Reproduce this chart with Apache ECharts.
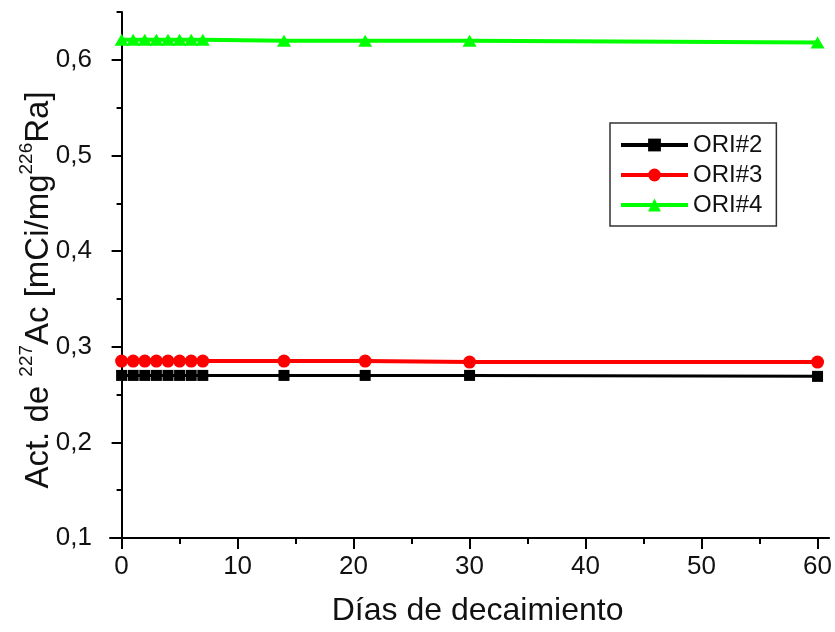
<!DOCTYPE html>
<html>
<head>
<meta charset="utf-8">
<script src="https://cdn.jsdelivr.net/npm/echarts@6/dist/echarts.min.js"></script>
<style>html,body{margin:0;padding:0;background:#fff}#c{width:835px;height:632px}</style>
</head>
<body>
<div id="c"></div>
<script>
const days = [0, 1, 2, 3, 4, 5, 6, 7, 14, 21, 30, 60];
const ori2 = [0.270, 0.270, 0.270, 0.270, 0.270, 0.270, 0.270, 0.270, 0.270, 0.270, 0.270, 0.269];
const ori3 = [0.285, 0.285, 0.285, 0.285, 0.285, 0.285, 0.285, 0.285, 0.285, 0.285, 0.284, 0.284];
const ori4 = [0.621, 0.621, 0.621, 0.621, 0.621, 0.621, 0.621, 0.621, 0.620, 0.620, 0.620, 0.618];
const xMajor = [0, 10, 20, 30, 40, 50, 60];
const xMinor = [5, 15, 25, 35, 45, 55];
const yMajor = [0.1, 0.2, 0.3, 0.4, 0.5, 0.6];
const yMinor = [0.15, 0.25, 0.35, 0.45, 0.55, 0.65];
const seriesNames = ['ORI#2', 'ORI#3', 'ORI#4'];

const chart = echarts.init(document.getElementById('c'));
const font = 'Liberation Sans, Arial, sans-serif';
const axisLineStyle = { color: '#000', width: 2 };
const pair = (ys) => days.map((d, i) => [d, ys[i]]);

chart.setOption({
  animation: false,
  grid: { left: 110, right: 4, top: 12, bottom: 93, containLabel: false },
  legend: {
    orient: 'vertical', left: 610, top: 123,
    padding: [9, 14, 8, 9],
    itemWidth: 67, itemHeight: 16, itemGap: 4,
    borderColor: '#333', borderWidth: 1.5,
    lineStyle: { width: 4 },
    textStyle: { fontFamily: font, fontSize: 24, color: '#111', lineHeight: 26 },
    data: seriesNames
  },
  xAxis: [
    {
      type: 'value', min: -1, max: 61,
      name: 'Días de decaimiento', nameLocation: 'middle', nameGap: 57,
      nameMoveOverlap: false,
      nameTextStyle: { fontFamily: font, fontSize: 32, color: '#111', padding: [0, 0, 0, 16] },
      axisLine: { lineStyle: axisLineStyle },
      axisTick: { show: true, length: 11, lineStyle: axisLineStyle, customValues: xMajor },
      axisLabel: { fontFamily: font, fontSize: 26, color: '#111', margin: 16, customValues: xMajor },
      splitLine: { show: false }
    },
    {
      type: 'value', min: -1, max: 61, position: 'bottom',
      axisLine: { show: false },
      axisTick: { show: true, length: 6, lineStyle: axisLineStyle, customValues: xMinor },
      axisLabel: { show: false },
      splitLine: { show: false }
    }
  ],
  yAxis: [
    {
      type: 'value', min: 0.1, max: 0.65, position: 'left',
      name: '{m|Act. de }{s|227}{m|Ac [mCi/mg}{s|226}{m|Ra]}',
      nameLocation: 'middle', nameGap: 55, nameRotate: 90,
      nameMoveOverlap: false,
      nameTextStyle: {
        padding: [0, 30, 0, 0],
        rich: {
          m: { fontFamily: font, fontSize: 33, color: '#111', lineHeight: 38, verticalAlign: 'bottom' },
          s: { fontFamily: font, fontSize: 19, color: '#111', lineHeight: 38, verticalAlign: 'top' }
        }
      },
      axisLine: { lineStyle: axisLineStyle },
      axisTick: { show: true, length: 10, lineStyle: axisLineStyle, customValues: yMajor },
      axisLabel: {
        fontFamily: font, fontSize: 26, color: '#111', margin: 18, customValues: yMajor,
        formatter: v => v.toFixed(1).replace('.', ',')
      },
      splitLine: { show: false }
    },
    {
      type: 'value', min: 0.1, max: 0.65, position: 'left',
      axisLine: { show: false },
      axisTick: { show: true, length: 5, lineStyle: axisLineStyle, customValues: yMinor },
      axisLabel: { show: false },
      splitLine: { show: false }
    }
  ],
  series: [
    {
      name: seriesNames[0], type: 'line', data: pair(ori2),
      symbol: 'rect', symbolSize: 11, color: '#000',
      lineStyle: { width: 3, color: '#000' }, itemStyle: { color: '#000' }
    },
    {
      name: seriesNames[1], type: 'line', data: pair(ori3),
      symbol: 'circle', symbolSize: 13, color: '#ff0000',
      lineStyle: { width: 4, color: '#ff0000' }, itemStyle: { color: '#ff0000' }
    },
    {
      name: seriesNames[2], type: 'line', data: pair(ori4),
      symbol: 'triangle', symbolSize: [14, 12], color: '#00ff00',
      lineStyle: { width: 4, color: '#00ff00' }, itemStyle: { color: '#00ff00' }
    }
  ]
});
</script>
</body>
</html>
